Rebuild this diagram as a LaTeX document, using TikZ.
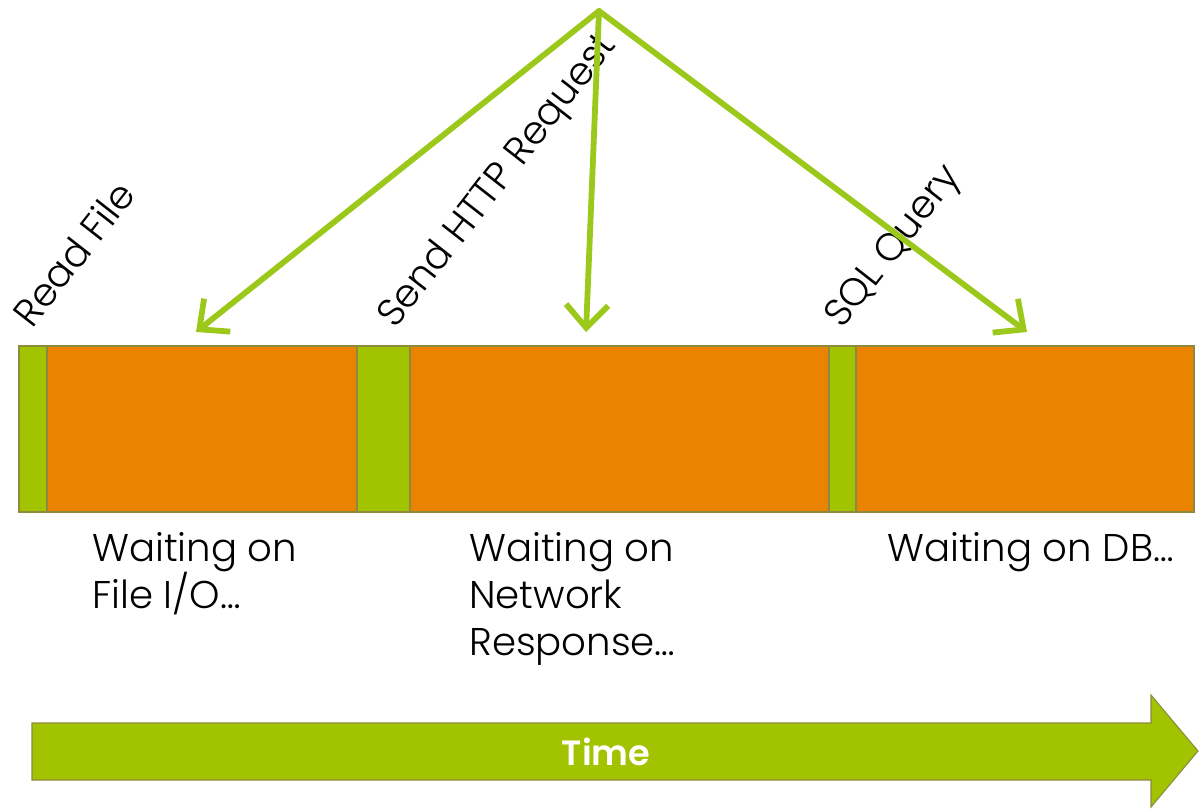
\documentclass[tikz,border=0pt]{standalone}
\usepackage{fontspec}
\IfFontExistsTF{Poppins Light}{\setmainfont{Poppins Light}[BoldFont=Poppins SemiBold]}{\setmainfont{Poppins}}
\usetikzlibrary{arrows.meta}
\definecolor{barorange}{HTML}{EA8300}
\definecolor{bargreen}{HTML}{A1C300}
\definecolor{arrgreen}{HTML}{9BC81A}
\definecolor{edgeol}{HTML}{8C8A3C}
\tikzset{
  seg/.style={draw=edgeol, line width=0.6pt},
  greenseg/.style={seg, fill=bargreen},
  orangeseg/.style={seg, fill=barorange},
  callarrow/.style={draw=arrgreen, line width=3.3pt, line cap=round,
     -{Straight Barb[length=13pt,width=24pt,line width=3.3pt]}},
  oplabel/.style={font=\fontsize{22}{26}\selectfont, rotate=52, anchor=base west, inner sep=0pt},
  waitlabel/.style={font=\fontsize{22}{26.7}\selectfont, anchor=north west, align=left, inner sep=0pt},
}
\begin{document}
\begin{tikzpicture}[x=0.02cm,y=-0.02cm]
\useasboundingbox (0,0) rectangle (1199,808);
% bar segments
\draw[greenseg] (19,346) rectangle (47,512);
\draw[orangeseg] (47,346) rectangle (357,512);
\draw[greenseg] (357,346) rectangle (410,512);
\draw[orangeseg] (410,346) rectangle (829,512);
\draw[greenseg] (829,346) rectangle (856,512);
\draw[orangeseg] (856,346) rectangle (1194,512);
% operation labels
\node[oplabel] (rf) at (32,330) {Read File};
\node[oplabel] (http) at (395,330) {Send HTTP Request};
\node[oplabel] (sql) at (842,330) {SQL Query};
% arrows
\coordinate (apex) at (599,11);
\coordinate (t1) at (196,332);
\coordinate (t2) at (586,332);
\coordinate (t3) at (1027,332);
\draw[callarrow] (apex) -- (t1);
\draw[callarrow] (apex) -- (t2);
\draw[callarrow] (apex) -- (t3);
% waiting labels
\node[waitlabel] (w1) at (92,532) {Waiting on\\File I/O…};
\node[waitlabel] (w2) at (469,532) {Waiting on\\Network\\Response…};
\node[waitlabel] (w3) at (887,532) {Waiting on DB…};
% time arrow
\draw[draw=edgeol, line width=0.6pt, fill=bargreen]
  (32,723) -- (1151,723) -- (1151,695) -- (1198,751) -- (1151,807) -- (1151,780) -- (32,780) -- cycle;
\node[text=white, font=\fontsize{20}{24}\selectfont\bfseries] (time) at (606,752) {Time};
\end{tikzpicture}
\end{document}
